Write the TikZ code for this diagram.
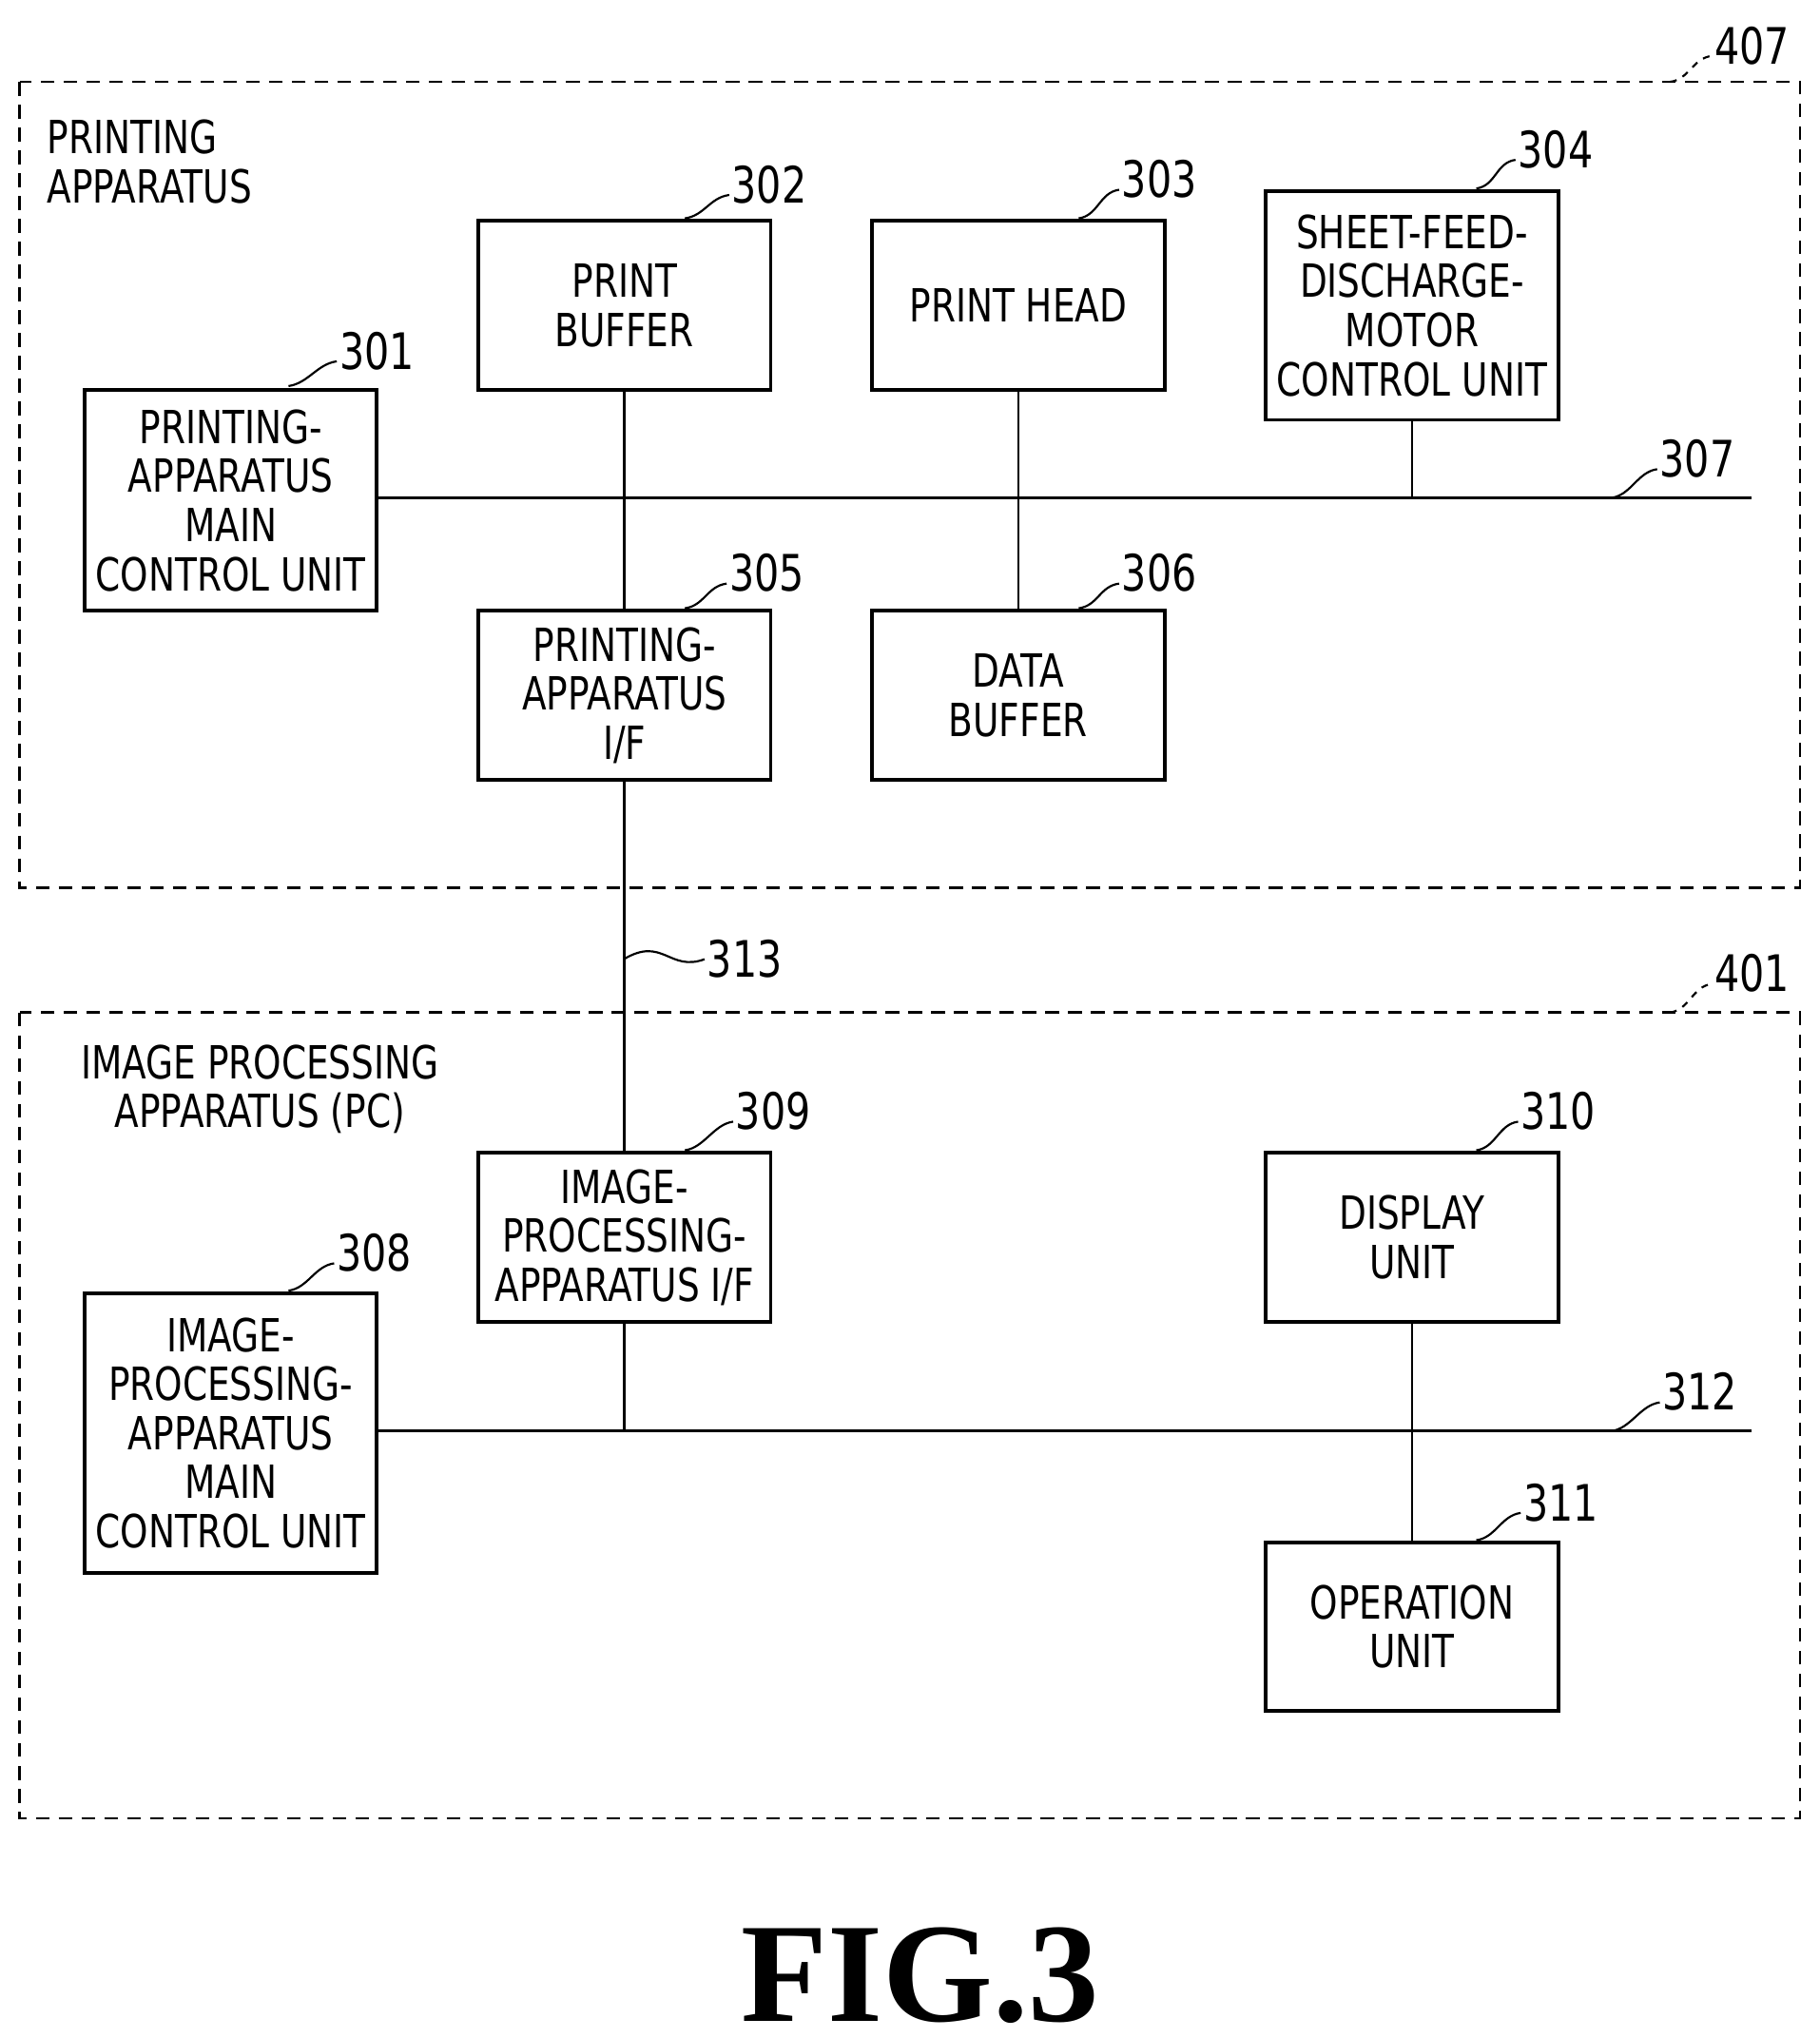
\documentclass[tikz,border=0pt]{standalone}
\usepackage{fontspec}
\setmainfont{DejaVu Sans}[FakeStretch=0.78]
\newfontfamily\figfont{Liberation Serif}
\usetikzlibrary{calc}
\newcommand\bx[6]{\node[box,minimum width=#4*0.02cm,minimum height=#5*0.02cm] (#1) at (#2,#3) {#6};}
\newcommand\lbl[6]{\node[num] (#1) at (#2,#3) {#4};
  \draw[lead,#6] (#5) .. controls +(15,-2) and +(-15,2) .. ($(#1.west)+(0,8)$);}
\begin{document}
\begin{tikzpicture}[x=0.02cm,y=-0.02cm,
  box/.style={draw,line width=1.6pt,align=center,inner sep=0pt,font=\fontsize{20}{21.5}\selectfont},
  frame/.style={draw,line width=1.1pt,dash pattern=on 6pt off 4pt},
  bus/.style={line width=1.1pt},
  num/.style={font=\fontsize{22}{24}\selectfont,inner sep=1pt},
  lead/.style={line width=0.9pt}]
\useasboundingbox (0,0) rectangle (1400,1568);
\draw[frame] (15,63) rectangle (1385,683);
\draw[frame] (15,779) rectangle (1385,1399);
\node[font=\fontsize{20}{21.5}\selectfont,align=left,anchor=north west] (t1) at (30,86) {PRINTING\\APPARATUS};
\node[font=\fontsize{20}{21.5}\selectfont,align=center] (t2) at (200,838) {IMAGE PROCESSING\\APPARATUS (PC)};
\bx{b301}{177.5}{385}{225}{170}{PRINTING-\\APPARATUS\\MAIN\\CONTROL UNIT}
\bx{b302}{480.5}{235}{225}{130}{PRINT\\BUFFER}
\bx{b303}{783.5}{235}{225}{130}{PRINT HEAD}
\bx{b304}{1086.5}{235}{225}{176}{SHEET-FEED-\\DISCHARGE-\\MOTOR\\CONTROL UNIT}
\bx{b305}{480.5}{535}{225}{130}{PRINTING-\\APPARATUS\\I/F}
\bx{b306}{783.5}{535}{225}{130}{DATA\\BUFFER}
\bx{b309}{480.5}{952}{225}{130}{IMAGE-\\PROCESSING-\\APPARATUS I/F}
\bx{b310}{1086.5}{952}{225}{130}{DISPLAY\\UNIT}
\bx{b308}{177.5}{1102.5}{225}{215}{IMAGE-\\PROCESSING-\\APPARATUS\\MAIN\\CONTROL UNIT}
\bx{b311}{1086.5}{1251.5}{225}{129}{OPERATION\\UNIT}
\coordinate (e307) at (1348,383);
\coordinate (e312) at (1348,1101);
\draw[bus] (b301.east |- e307) -- (e307);
\draw[bus] (b308.east |- e312) -- (e312);
\draw[bus] (b302) -- (b305);
\draw[bus] (b303) -- (b306);
\draw[bus] (b304.south) -- (b304.south |- e307);
\draw[bus] (b305) -- (b309);
\draw[bus] (b309.south) -- (b309.south |- e312);
\draw[bus] (b310) -- (b311);
\lbl{n301}{290}{270}{301}{222,297}{}
\lbl{n302}{592}{142}{302}{527,168}{}
\lbl{n303}{892}{138}{303}{830,168}{}
\lbl{n304}{1197}{115}{304}{1136,145}{}
\lbl{n305}{590}{441}{305}{527,468}{}
\lbl{n306}{892}{441}{306}{830,468}{}
\lbl{n307}{1306}{353}{307}{1240,383}{}
\lbl{n309}{595}{855}{309}{527,885}{}
\lbl{n310}{1199}{855}{310}{1136,885}{}
\lbl{n308}{288}{964}{308}{222,993}{}
\lbl{n311}{1201}{1156}{311}{1136,1185}{}
\lbl{n312}{1308}{1071}{312}{1240,1101}{}
\lbl{n407}{1348}{35}{407}{1285,63}{dashed}
\lbl{n401}{1348}{749}{401}{1285,779}{dashed}
\node[num] (n313) at (573,738) {313};
\draw[lead] (480,738) .. controls (510,720) and (515,748) .. (n313.west);
\node[font=\fontsize{62}{64}\selectfont\figfont\bfseries] (fig) at (708,1520) {FIG.3};
\end{tikzpicture}
\end{document}
